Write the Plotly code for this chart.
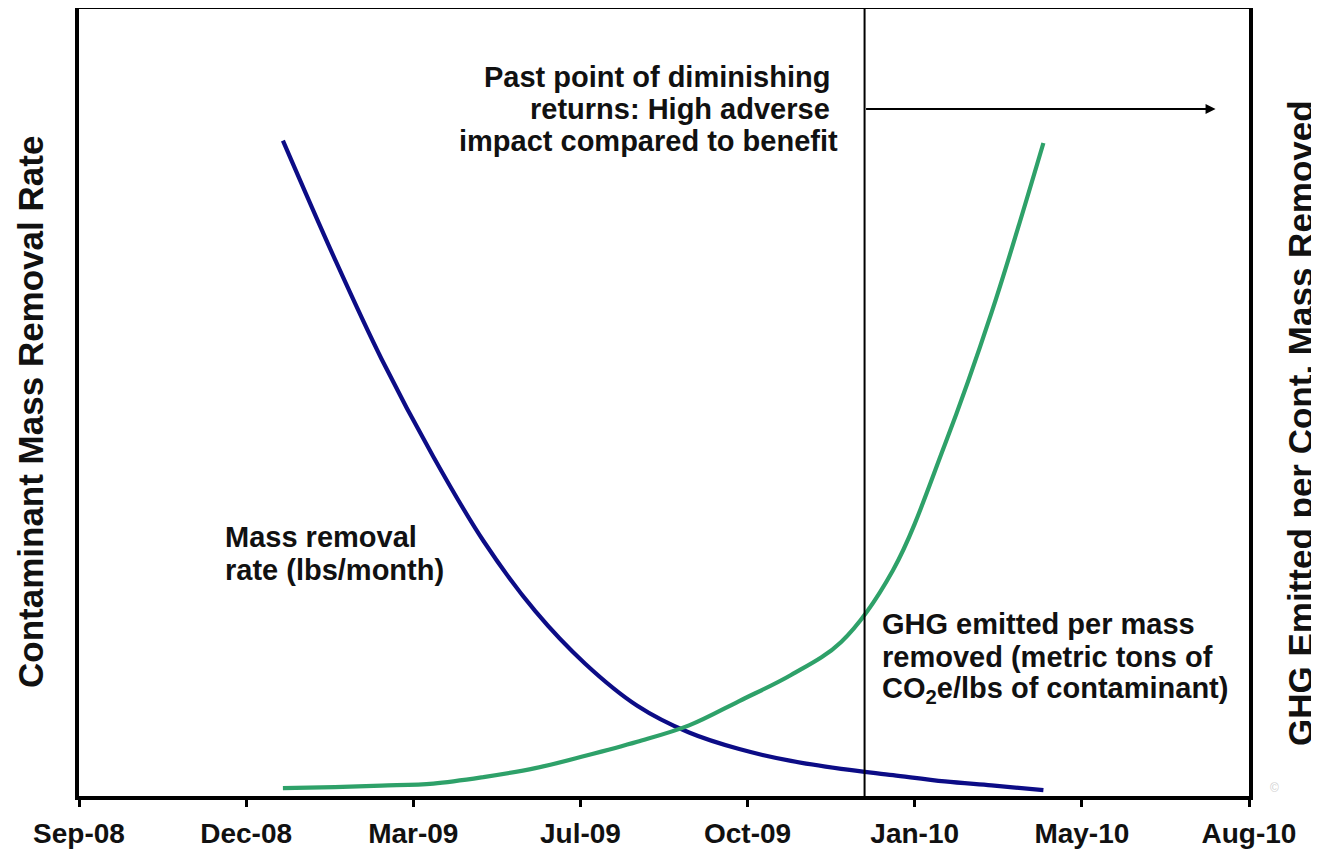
import plotly.graph_objects as go

# ---- data ----
dates = ["2009-01-10", "2009-02-10", "2009-03-10", "2009-04-10", "2009-05-10", "2009-06-10",
         "2009-07-10", "2009-08-10", "2009-09-10", "2009-10-10", "2009-11-10", "2009-12-10",
         "2010-01-10", "2010-02-10", "2010-03-10", "2010-04-10"]
mass_removal_rate = [82.9, 67.9, 55.2, 42.8, 32.1, 23.2, 16.5, 11.2, 7.8, 5.7, 4.2, 3.2, 2.4, 1.6, 1.1, 0.5]
ghg_per_mass = [0.76, 0.88, 1.07, 1.33, 2.15, 3.28, 4.85, 6.63, 8.71, 11.8, 15.1, 19.3, 28.4, 44.3, 61.1, 82.6]

tick_dates = ["2008-09-10", "2008-12-19", "2009-03-29", "2009-07-07",
              "2009-10-15", "2010-01-23", "2010-05-03", "2010-08-11"]
tick_labels = ["Sep-08", "Dec-08", "Mar-09", "Jul-09", "Oct-09", "Jan-10", "May-10", "Aug-10"]

left_title = "Contaminant Mass Removal Rate"
right_title = "GHG Emitted per Cont. Mass Removed"

threshold_date = "2009-12-24"
arrow_end_date = "2010-07-22"
arrow_level = 86.9

FONT = "Liberation Sans, Arial, sans-serif"
TXT = "#111111"
BLUE = "#0c0c86"
GREEN = "#2ea169"

fig = go.Figure()
fig.add_trace(go.Scatter(x=dates, y=mass_removal_rate, mode="lines",
                         line=dict(color=BLUE, width=4.2, shape="spline"),
                         name="Mass removal rate", yaxis="y"))
fig.add_trace(go.Scatter(x=dates, y=ghg_per_mass, mode="lines",
                         line=dict(color=GREEN, width=4.2, shape="spline"),
                         name="GHG emitted per mass removed", yaxis="y2"))

# vertical threshold line
fig.add_shape(type="line", xref="x", yref="paper", x0=threshold_date, x1=threshold_date,
              y0=0, y1=1, line=dict(color="black", width=2))

# arrow
fig.add_annotation(x=arrow_end_date, y=arrow_level, ax=threshold_date, ay=arrow_level,
                   xref="x", yref="y", axref="x", ayref="y", text="", showarrow=True,
                   arrowhead=2, arrowsize=1, arrowwidth=2, arrowcolor="black")

# page-pixel layout (the page body adds an 8px offset)
OFF = 8
W, H = 1319 - OFF, 857 - OFF
PL, PR, PT, PB = 79, 1249, 9, 796

def px_x(p):
    return (p - PL) / (PR - PL)

def px_y(p):
    return (PB - p) / (PB - PT)

def label(text, x, y, xanchor, size=29, angle=0):
    fig.add_annotation(x=px_x(x), y=px_y(y), xref="paper", yref="paper", text=text,
                       showarrow=False, xanchor=xanchor, yanchor="middle", textangle=angle,
                       font=dict(family=FONT, size=size, color=TXT, weight="bold"))

label("Past point of diminishing", 832, 77, "right")
label("returns: High adverse", 832, 109, "right")
label("impact compared to benefit", 840, 141, "right")

label("Mass removal", 223, 537, "left")
label("rate (lbs/month)", 223, 570, "left")

label("GHG emitted per mass", 880, 624, "left")
label("removed (metric tons of", 880, 657, "left")
label("CO<sub>2</sub>e/lbs of contaminant)", 880, 690, "left")

# axis titles
label(left_title, 30, 412, "center", size=35, angle=-90)
label(right_title, 1300, 423, "center", size=35, angle=-90)

fig.add_annotation(x=px_x(1281), y=px_y(797), xref="paper", yref="paper", text="©",
                   showarrow=False, font=dict(family=FONT, size=12, color="#d0d0d0"))

fig.update_layout(
    width=W, height=H,
    margin=dict(l=PL - OFF, r=W - (PR - OFF), t=PT - OFF, b=H - (PB - OFF)),
    paper_bgcolor="white", plot_bgcolor="white",
    showlegend=False,
    font=dict(family=FONT, color=TXT),
    xaxis=dict(type="date", range=[tick_dates[0], tick_dates[-1]],
               tickmode="array", tickvals=tick_dates, ticktext=tick_labels,
               ticks="outside", ticklen=7, tickwidth=3, tickcolor="black",
               tickfont=dict(family=FONT, size=28, color=TXT, weight="bold"),
               ticklabelstandoff=2, automargin=False,
               showline=True, linecolor="black", linewidth=4, mirror=True,
               showgrid=False, zeroline=False),
    yaxis=dict(range=[-0.25, 99.6], showticklabels=False, ticks="", automargin=False,
               showline=True, linecolor="black", linewidth=4, mirror=True,
               showgrid=False, zeroline=False),
    yaxis2=dict(range=[-0.25, 99.6], overlaying="y", side="right", automargin=False,
                showticklabels=False, ticks="", showline=False,
                showgrid=False, zeroline=False),
)

fig.write_html("out.html")
